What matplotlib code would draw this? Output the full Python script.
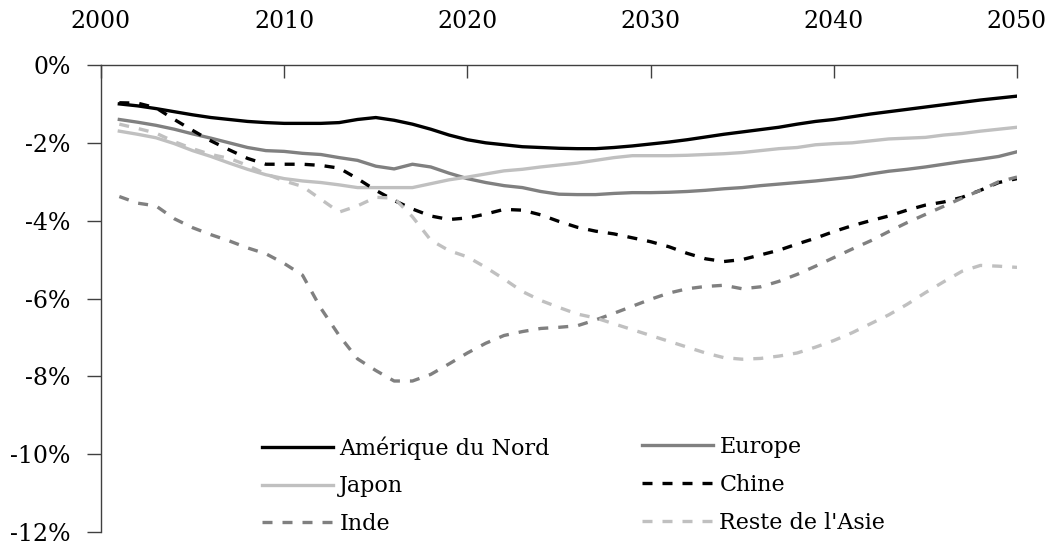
import matplotlib
matplotlib.use("Agg")
import matplotlib.pyplot as plt
from matplotlib.ticker import FuncFormatter

plt.rcParams['font.family'] = ['DejaVu Serif']

years = list(range(2001, 2051))

amerique_du_nord = [-1.00, -1.05, -1.12, -1.20, -1.28, -1.35, -1.40, -1.45, -1.48, -1.50,
                    -1.50, -1.50, -1.48, -1.40, -1.35, -1.42, -1.52, -1.65, -1.80, -1.92,
                    -2.00, -2.05, -2.10, -2.12, -2.14, -2.15, -2.15, -2.12, -2.08, -2.03,
                    -1.98, -1.92, -1.85, -1.78, -1.72, -1.66, -1.60, -1.52, -1.45, -1.40,
                    -1.33, -1.26, -1.20, -1.14, -1.08, -1.02, -0.96, -0.90, -0.85, -0.80]

europe = [-1.40, -1.47, -1.55, -1.65, -1.77, -1.88, -2.00, -2.12, -2.20, -2.22,
          -2.27, -2.30, -2.38, -2.45, -2.60, -2.67, -2.55, -2.62, -2.78, -2.92,
          -3.02, -3.10, -3.15, -3.25, -3.32, -3.33, -3.33, -3.30, -3.28, -3.28,
          -3.27, -3.25, -3.22, -3.18, -3.15, -3.10, -3.06, -3.02, -2.98, -2.93,
          -2.88, -2.80, -2.73, -2.68, -2.62, -2.55, -2.48, -2.42, -2.35, -2.23]

japon = [-1.70, -1.78, -1.87, -2.02, -2.20, -2.35, -2.52, -2.68, -2.82, -2.92,
         -2.98, -3.02, -3.08, -3.15, -3.15, -3.15, -3.15, -3.05, -2.95, -2.88,
         -2.80, -2.72, -2.68, -2.62, -2.57, -2.52, -2.45, -2.38, -2.33, -2.33,
         -2.33, -2.32, -2.30, -2.28, -2.25, -2.20, -2.15, -2.12, -2.05, -2.02,
         -2.00, -1.95, -1.90, -1.88, -1.86, -1.80, -1.76, -1.70, -1.65, -1.60]

chine = [-0.97, -0.98, -1.10, -1.40, -1.68, -1.95, -2.18, -2.40, -2.55, -2.55,
         -2.55, -2.58, -2.65, -2.92, -3.22, -3.48, -3.70, -3.88, -3.97, -3.93,
         -3.83, -3.71, -3.73, -3.85, -4.02, -4.17, -4.27, -4.34, -4.44, -4.54,
         -4.67, -4.84, -4.98, -5.05, -5.00, -4.88, -4.76, -4.60, -4.45, -4.28,
         -4.13, -4.00, -3.88, -3.73, -3.60, -3.52, -3.40, -3.22, -3.02, -2.92]

inde = [-3.38, -3.55, -3.62, -3.95, -4.18, -4.36, -4.52, -4.70, -4.85, -5.10,
        -5.40, -6.25, -6.95, -7.55, -7.85, -8.12, -8.12, -7.95, -7.68, -7.40,
        -7.15, -6.95, -6.85, -6.77, -6.74, -6.70, -6.55, -6.38, -6.20, -6.02,
        -5.86, -5.75, -5.69, -5.66, -5.75, -5.70, -5.56, -5.38, -5.17, -4.95,
        -4.73, -4.52, -4.28, -4.05, -3.84, -3.63, -3.42, -3.22, -3.00, -2.88]

reste_asie = [-1.52, -1.63, -1.75, -1.97, -2.15, -2.30, -2.40, -2.58, -2.80, -2.98,
              -3.12, -3.45, -3.78, -3.62, -3.40, -3.42, -3.90, -4.50, -4.77, -4.93,
              -5.20, -5.50, -5.82, -6.05, -6.23, -6.40, -6.50, -6.65, -6.80, -6.95,
              -7.10, -7.25, -7.40, -7.52, -7.56, -7.54, -7.48, -7.40, -7.25, -7.08,
              -6.88, -6.65, -6.42, -6.15, -5.85, -5.57, -5.30, -5.15, -5.17, -5.20]

x_ticks = [2000, 2010, 2020, 2030, 2040, 2050]
y_ticks = [0, -2, -4, -6, -8, -10, -12]

BLACK = '#000000'
GRAY = '#808080'
LIGHT = '#c0c0c0'
LW = 2.4
DASH = (3, 3)

fig = plt.figure(figsize=(10.56, 5.44), dpi=100)
ax = fig.add_axes([101/1056, 1 - 532/544, (1017 - 101)/1056, (532 - 65)/544])

series = [
    ("Amérique du Nord", amerique_du_nord, BLACK, '-'),
    ("Europe", europe, GRAY, '-'),
    ("Japon", japon, LIGHT, '-'),
    ("Chine", chine, BLACK, '--'),
    ("Inde", inde, GRAY, '--'),
    ("Reste de l'Asie", reste_asie, LIGHT, '--'),
]
handles = {}
for name, vals, col, ls in series:
    if ls == '--':
        ln, = ax.plot(years, vals, color=col, lw=LW, dashes=DASH, label=name,
                      dash_capstyle='butt')
    else:
        ln, = ax.plot(years, vals, color=col, lw=LW, ls='-', label=name,
                      solid_joinstyle='round')
    handles[name] = ln

ax.set_xlim(2000, 2050)
ax.set_ylim(-12, 0)
ax.set_xticks(x_ticks)
ax.set_yticks(y_ticks)
ax.yaxis.set_major_formatter(FuncFormatter(lambda v, p: f"{int(round(v))}%"))

ax.xaxis.tick_top()
ax.tick_params(axis='x', direction='in', length=9, width=1, color='#404040',
               labelsize=17, pad=23)
ax.tick_params(axis='y', direction='out', length=10, width=1, color='#404040',
               labelsize=17, pad=12)

for s in ['right', 'bottom']:
    ax.spines[s].set_visible(False)
for s in ['top', 'left']:
    ax.spines[s].set_color('#404040')
    ax.spines[s].set_linewidth(1)

leg_kw = dict(frameon=False, fontsize=16, handlelength=3.2, handletextpad=0.28,
              labelspacing=0.71, borderpad=0, borderaxespad=0, loc='upper left')
col1 = ["Amérique du Nord", "Japon", "Inde"]
col2 = ["Europe", "Chine", "Reste de l'Asie"]
leg1 = ax.legend([handles[n] for n in col1], col1,
                 bbox_to_anchor=(262/1056, 1 - 436/544), bbox_transform=fig.transFigure,
                 **leg_kw)
ax.add_artist(leg1)
leg2 = ax.legend([handles[n] for n in col2], col2,
                 bbox_to_anchor=(642/1056, 1 - 436/544), bbox_transform=fig.transFigure,
                 **leg_kw)

fig.savefig("out.png", dpi=100)
